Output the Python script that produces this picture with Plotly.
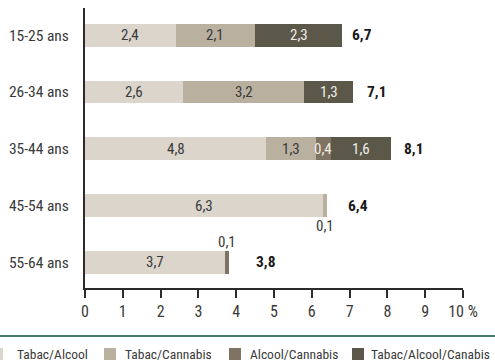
import plotly.graph_objects as go

categories = ["15-25 ans", "26-34 ans", "35-44 ans", "45-54 ans", "55-64 ans"]
series_names = ["Tabac/Alcool", "Tabac/Cannabis", "Alcool/Cannabis", "Tabac/Alcool/Canabis"]
tabac_alcool = [2.4, 2.6, 4.8, 6.3, 3.7]
tabac_cannabis = [2.1, 3.2, 1.3, 0.1, 0.0]
alcool_cannabis = [0.0, 0.0, 0.4, 0.0, 0.1]
tabac_alcool_cannabis = [2.3, 1.3, 1.6, 0.0, 0.0]
totals = [6.7, 7.1, 8.1, 6.4, 3.8]
x_ticks = [0, 1, 2, 3, 4, 5, 6, 7, 8, 9, 10]
x_tick_labels = ["0", "1", "2", "3", "4", "5", "6", "7", "8", "9", "10 %"]

FONT = "Roboto Condensed, DejaVu Sans Condensed, sans-serif"
colors = ["#dbd5cc", "#b9b09f", "#7f7463", "#5b5849"]
text_colors = ["#3a3a3a", "#3a3a3a", "#f0ece6", "#f0ece6"]
series = [tabac_alcool, tabac_cannabis, alcool_cannabis, tabac_alcool_cannabis]

W, H = 495, 363
ML, MR, MT, MB = 85, 32, 8, 75

def fmt(v):
    return f"{v:.1f}".replace(".", ",")

fig = go.Figure()
for name, vals, col in zip(series_names, series, colors):
    fig.add_trace(go.Bar(
        y=categories, x=vals, name=name, orientation="h",
        marker=dict(color=col, line=dict(width=0)),
        width=0.4, showlegend=False, hoverinfo="skip",
    ))

annotations = []
for i, cat in enumerate(categories):
    start = 0.0
    for s, vals in enumerate(series):
        v = vals[i]
        if v <= 0:
            continue
        mid = start + v / 2
        if v >= 0.3:
            annotations.append(dict(x=mid, y=cat, xref="x", yref="y", text=fmt(v),
                                    showarrow=False, font=dict(family=FONT, size=15, color=text_colors[s])))
        else:
            below = (i == 3)
            annotations.append(dict(x=mid, y=cat, xref="x", yref="y", text=fmt(v),
                                    showarrow=False, yshift=(-20 if below else 20),
                                    font=dict(family=FONT, size=15, color="#3a3a3a")))
        start += v

total_shift = [8, 12, 11, 19, 25]
for i, cat in enumerate(categories):
    end = sum(vals[i] for vals in series)
    annotations.append(dict(x=end, y=cat, xref="x", yref="y", text="<b>" + fmt(totals[i]) + "</b>",
                            showarrow=False, xanchor="left", xshift=total_shift[i],
                            font=dict(family=FONT, size=15.5, color="#1a1a1a")))

pw = W - ML - MR
ph = H - MT - MB
def px_x(p):
    return (p - ML) / pw
def px_y(p):
    return 1 - (p - MT) / ph

shapes = [dict(type="line", xref="paper", yref="paper", x0=px_x(0), x1=px_x(W),
               y0=px_y(336), y1=px_y(336), line=dict(color="#4b7b6f", width=2))]
leg_square_x = [-9, 104, 229, 352]
leg_text_x = [15, 123, 248, 369]
for k, name in enumerate(series_names):
    shapes.append(dict(type="rect", xref="paper", yref="paper",
                       x0=px_x(leg_square_x[k]), x1=px_x(leg_square_x[k] + 12),
                       y0=px_y(360), y1=px_y(348), fillcolor=colors[k], line=dict(width=0)))
    annotations.append(dict(x=px_x(leg_text_x[k]), y=px_y(354), xref="paper", yref="paper",
                            text=name, showarrow=False, xanchor="left", yanchor="middle",
                            font=dict(family=FONT, size=13.5, color="#3a3a3a")))

fig.update_layout(
    barmode="stack",
    width=W, height=H,
    margin=dict(l=ML, r=MR, t=MT, b=MB, pad=0),
    plot_bgcolor="white", paper_bgcolor="white",
    font=dict(family=FONT, size=15, color="#3a3a3a"),
    xaxis=dict(range=[0, 10], tickvals=x_ticks, ticktext=x_tick_labels, automargin=False,
               showgrid=False, zeroline=False, showline=True, linecolor="#2b2b2b", linewidth=2,
               ticks="outside", ticklen=8, tickwidth=1.5, tickcolor="#2b2b2b",
               tickfont=dict(family=FONT, size=16, color="#3a3a3a")),
    yaxis=dict(range=[4.45, -0.48], autorange=False, showgrid=False, zeroline=False, automargin=False,
               showline=True, linecolor="#2b2b2b", linewidth=2, ticks="",
               ticklabelstandoff=11,
               tickfont=dict(family=FONT, size=15.5, color="#3a3a3a")),
    annotations=annotations,
    shapes=shapes,
    bargap=0.6,
)

fig.write_html("out.html", config={"displayModeBar": False},
               post_script="document.body.style.margin='0';document.body.style.overflow='hidden';")
